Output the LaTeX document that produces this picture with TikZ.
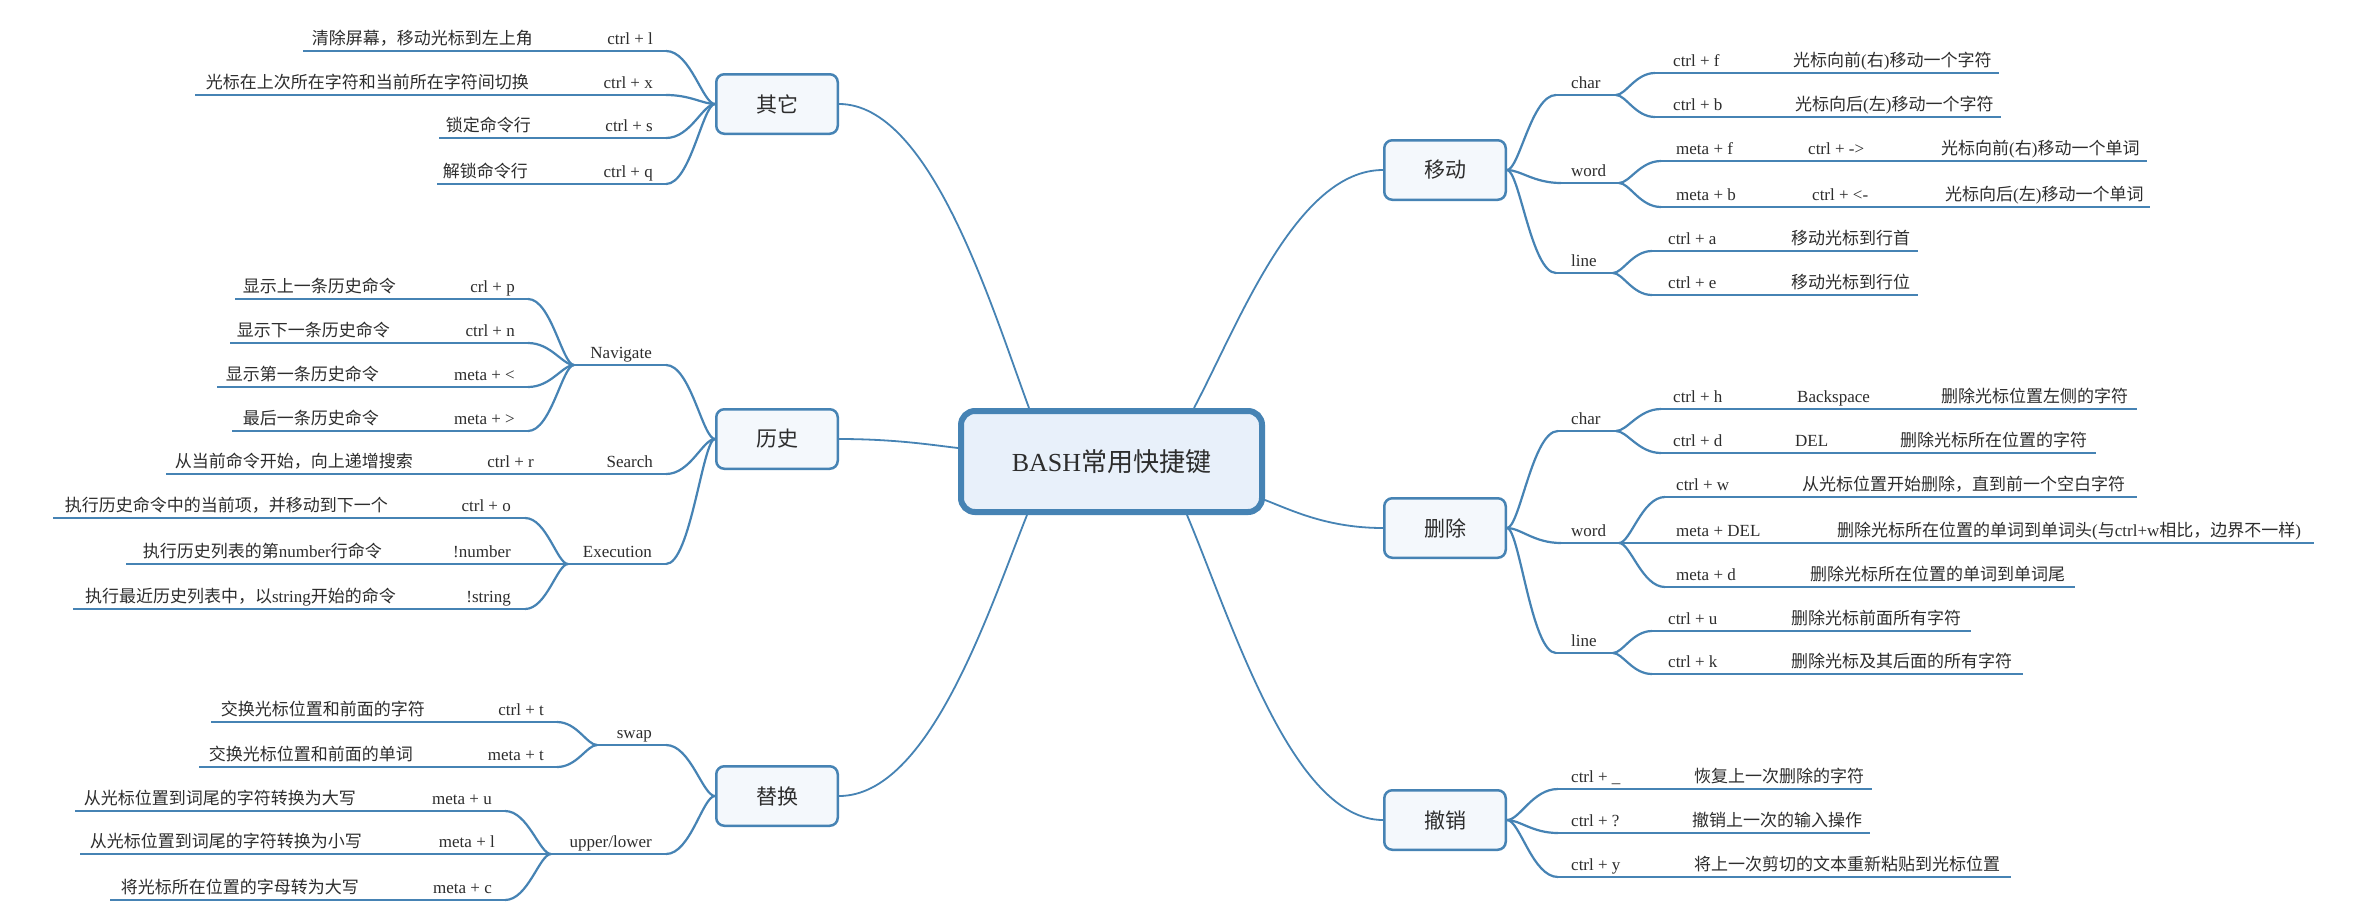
\documentclass[tikz,border=0pt]{standalone}
\usepackage{fontspec}
\setmainfont{Liberation Serif}
\newfontfamily\cjk{Noto Sans CJK SC}
\usetikzlibrary{calc}
\definecolor{bl}{RGB}{70,131,180}
\definecolor{tx}{RGB}{45,45,45}
\definecolor{mfill}{RGB}{244,248,252}
\definecolor{cfill}{RGB}{232,240,250}
\newcommand\latn[1]{{\rmfamily #1}}
\tikzset{
  ln/.style={draw=bl, line width=2.2pt},
  br/.style={draw=bl, line width=1.8pt},
  sbr/.style={draw=bl, line width=2.2pt},
  lbl/.style={font=\fontsize{17}{20}\selectfont, text=tx, inner sep=0pt},
  dsc/.style={font=\cjk\fontsize{17}{20}\selectfont, text=tx, inner sep=0pt},
  mbox/.style={draw=bl, line width=2.5pt, fill=mfill, rounded corners=8pt,
    minimum width=121.5pt, minimum height=59.5pt, inner sep=0pt,
    font=\cjk\fontsize{21}{24}\selectfont, text=tx},
  cbox/.style={draw=bl, line width=6pt, fill=cfill, rounded corners=14pt,
    minimum width=301pt, minimum height=101pt, inner sep=0pt,
    font=\cjk\fontsize{26}{30}\selectfont, text=tx}
}
\newcommand\scurve[2]{\draw[sbr] (#1) .. controls ($(#1)!0.25!(#1 -| #2)$) and ($(#1 |- #2)!0.5!(#2)$) .. (#2);}
\newcommand\Lrow[8]{%
  \coordinate (#1a) at (#3,#2); \coordinate (#1b) at (#4,#2);
  \draw[ln] (#1a) -- (#1b);
  \node[lbl,anchor=base east] (#1k) at (#5,{#2-7}) {#6};
  \node[dsc,anchor=base east] (#1d) at (#7,{#2-7}) {#8};}
\newcommand\Rrow[8]{%
  \coordinate (#1a) at (#3,#2); \coordinate (#1b) at (#4,#2);
  \draw[ln] (#1a) -- (#1b);
  \node[lbl,anchor=base west] (#1k) at (#5,{#2-7}) {#6};
  \node[dsc,anchor=base west] (#1d) at (#7,{#2-7}) {#8};}
\newcommand\Lsub[6]{%
  \coordinate (#1a) at (#3,#2); \coordinate (#1b) at (#4,#2);
  \draw[ln] (#1a) -- (#1b);
  \node[lbl,anchor=base east] (#1t) at (#5,{#2-7}) {#6};}
\newcommand\Rsub[6]{%
  \coordinate (#1a) at (#3,#2); \coordinate (#1b) at (#4,#2);
  \draw[ln] (#1a) -- (#1b);
  \node[lbl,anchor=base west] (#1t) at (#5,{#2-7}) {#6};}
\begin{document}
\begin{tikzpicture}[x=1pt,y=-1pt]
\fill[white] (0,0) rectangle (2368,922);
\useasboundingbox (0,0) rectangle (2368,922);

% ---------- boxes ----------
\node[cbox] (root) at (1111.5,461.5) {\latn{BASH}常用快捷键};
\node[mbox] (qt) at (777,104) {其它};
\node[mbox] (ls) at (777,439) {历史};
\node[mbox] (th) at (777,796) {替换};
\node[mbox] (yd) at (1445,170) {移动};
\node[mbox] (sc) at (1445,528) {删除};
\node[mbox] (cx) at (1445,820) {撤销};

\coordinate (r1) at ($(root.north west)+(71,0)$);
\coordinate (r2) at ($(root.west)+(0,-13.5)$);
\coordinate (r3) at ($(root.south west)+(69,0)$);
\coordinate (r4) at ($(root.north west)+(236,0)$);
\coordinate (r5) at ($(root.east)+(0,38.5)$);
\coordinate (r6) at ($(root.south west)+(229,0)$);

\draw[br] (qt.east) .. controls (930,104) and (990,302) .. (r1);
\draw[br] (ls.east) .. controls (895,439) and (932,445) .. (r2);
\draw[br] (th.east) .. controls (929,796) and (988,613) .. (r3);
\draw[br] (yd.west) .. controls (1296,170) and (1238,325) .. (r4);
\draw[br] (sc.west) .. controls (1327,528) and (1291,510) .. (r5);
\draw[br] (cx.west) .. controls (1292,820) and (1232,622) .. (r6);

% ---------- 其它 ----------
\Lrow{q1}{51}{303}{666}{653}{ctrl + l}{533}{清除屏幕，移动光标到左上角}
\Lrow{q2}{95}{195}{666}{653}{ctrl + x}{529}{光标在上次所在字符和当前所在字符间切换}
\Lrow{q3}{138}{439}{666}{653}{ctrl + s}{531}{锁定命令行}
\Lrow{q4}{184}{437}{666}{653}{ctrl + q}{528}{解锁命令行}
\scurve{qt.west}{q1b}
\scurve{qt.west}{q2b}
\scurve{qt.west}{q3b}
\scurve{qt.west}{q4b}

% ---------- 历史 ----------
\Lsub{nv}{365}{574}{666}{652}{Navigate}
\Lrow{n1}{299}{235}{528}{515}{crl + p}{396}{显示上一条历史命令}
\Lrow{n2}{343}{230}{528}{515}{ctrl + n}{390}{显示下一条历史命令}
\Lrow{n3}{387}{217}{528}{515}{meta + <}{379}{显示第一条历史命令}
\Lrow{n4}{431}{232}{528}{515}{meta + >}{379}{最后一条历史命令}
\Lsub{sr}{474}{166}{666}{653}{Search}
\node[lbl,anchor=base east] (srk) at (534,467) {ctrl + r};
\node[dsc,anchor=base east] (srd) at (413,467) {从当前命令开始，向上递增搜索};
\Lsub{ex}{564}{568}{666}{652}{Execution}
\Lrow{e1}{518}{53}{525}{511}{ctrl + o}{388}{执行历史命令中的当前项，并移动到下一个}
\Lrow{e2}{564}{126}{568}{511}{!number}{382}{执行历史列表的第\latn{number}行命令}
\Lrow{e3}{609}{73}{525}{511}{!string}{396}{执行最近历史列表中，以\latn{string}开始的命令}
\scurve{ls.west}{nvb}
\scurve{ls.west}{srb}
\scurve{ls.west}{exb}
\scurve{nva}{n1b}
\scurve{nva}{n2b}
\scurve{nva}{n3b}
\scurve{nva}{n4b}
\scurve{exa}{e1b}
\scurve{exa}{e3b}

% ---------- 替换 ----------
\Lsub{sw}{745}{597}{666}{652}{swap}
\Lrow{s1}{722}{211}{557}{544}{ctrl + t}{425}{交换光标位置和前面的字符}
\Lrow{s2}{767}{199}{557}{544}{meta + t}{413}{交换光标位置和前面的单词}
\Lsub{up}{854}{551}{666}{652}{upper/lower}
\Lrow{u1}{811}{75}{505}{492}{meta + u}{356}{从光标位置到词尾的字符转换为大写}
\Lrow{u2}{854}{80}{551}{495}{meta + l}{362}{从光标位置到词尾的字符转换为小写}
\Lrow{u3}{900}{110}{505}{492}{meta + c}{359}{将光标所在位置的字母转为大写}
\scurve{th.west}{swb}
\scurve{th.west}{upb}
\scurve{swa}{s1b}
\scurve{swa}{s2b}
\scurve{upa}{u1b}
\scurve{upa}{u3b}

% ---------- 移动 ----------
\Rsub{ch}{95}{1556}{1616}{1571}{char}
\Rrow{c1}{73}{1655}{1999}{1673}{ctrl + f}{1793}{光标向前\latn{(}右\latn{)}移动一个字符}
\Rrow{c2}{117}{1655}{2001}{1673}{ctrl + b}{1795}{光标向后\latn{(}左\latn{)}移动一个字符}
\Rsub{wd}{183}{1561}{1619}{1571}{word}
\Rrow{w1}{161}{1661}{2147}{1676}{meta + f}{1941}{光标向前\latn{(}右\latn{)}移动一个单词}
\node[lbl,anchor=base west] (w1m) at (1808,154) {ctrl + ->};
\Rrow{w2}{207}{1661}{2150}{1676}{meta + b}{1945}{光标向后\latn{(}左\latn{)}移动一个单词}
\node[lbl,anchor=base west] (w2m) at (1812,200) {ctrl + <-};
\Rsub{ln}{273}{1556}{1613}{1571}{line}
\Rrow{l1}{251}{1652}{1918}{1668}{ctrl + a}{1791}{移动光标到行首}
\Rrow{l2}{295}{1652}{1918}{1668}{ctrl + e}{1791}{移动光标到行位}
\scurve{yd.east}{cha}
\scurve{yd.east}{wda}
\scurve{yd.east}{lna}
\scurve{chb}{c1a}
\scurve{chb}{c2a}
\scurve{wdb}{w1a}
\scurve{wdb}{w2a}
\scurve{lnb}{l1a}
\scurve{lnb}{l2a}

% ---------- 删除 ----------
\Rsub{dc}{431}{1558}{1616}{1571}{char}
\Rrow{d1}{409}{1661}{2137}{1673}{ctrl + h}{1941}{删除光标位置左侧的字符}
\node[lbl,anchor=base west] (d1m) at (1797,402) {Backspace};
\Rrow{d2}{453}{1661}{2096}{1673}{ctrl + d}{1900}{删除光标所在位置的字符}
\node[lbl,anchor=base west] (d2m) at (1795,446) {DEL};
\Rsub{dw}{543}{1561}{1619}{1571}{word}
\Rrow{w3}{497}{1665}{2137}{1676}{ctrl + w}{1802}{从光标位置开始删除，直到前一个空白字符}
\Rrow{w4}{543}{1619}{2314}{1676}{meta + DEL}{1837}{删除光标所在位置的单词到单词头\latn{(}与\latn{ctrl+w}相比，边界不一样\latn{)}}
\Rrow{w5}{587}{1665}{2075}{1676}{meta + d}{1810}{删除光标所在位置的单词到单词尾}
\Rsub{dl}{653}{1556}{1613}{1571}{line}
\Rrow{l3}{631}{1652}{1971}{1668}{ctrl + u}{1791}{删除光标前面所有字符}
\Rrow{l4}{674}{1652}{2023}{1668}{ctrl + k}{1791}{删除光标及其后面的所有字符}
\scurve{sc.east}{dca}
\scurve{sc.east}{dwa}
\scurve{sc.east}{dla}
\scurve{dcb}{d1a}
\scurve{dcb}{d2a}
\scurve{dwb}{w3a}
\scurve{dwb}{w5a}
\scurve{dlb}{l3a}
\scurve{dlb}{l4a}

% ---------- 撤销 ----------
\Rrow{x1}{789}{1558}{1872}{1571}{ctrl + \_}{1694}{恢复上一次删除的字符}
\Rrow{x2}{833}{1558}{1870}{1571}{ctrl + ?}{1692}{撤销上一次的输入操作}
\Rrow{x3}{877}{1558}{2011}{1571}{ctrl + y}{1694}{将上一次剪切的文本重新粘贴到光标位置}
\scurve{cx.east}{x1a}
\scurve{cx.east}{x2a}
\scurve{cx.east}{x3a}
\end{tikzpicture}
\end{document}
